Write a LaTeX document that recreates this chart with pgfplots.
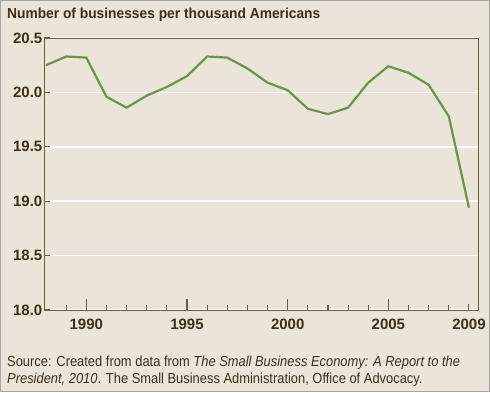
\documentclass[border=0pt]{standalone}
\usepackage{pgfplots}
\pgfplotsset{compat=1.18}
\usepackage{fontspec}
\setmainfont{Liberation Sans}
\newfontfamily\condfont[FakeStretch=0.89]{Liberation Sans}
\newfontfamily\titlefont[FakeStretch=0.95]{Liberation Sans}
\definecolor{bgc}{RGB}{234,228,217}
\definecolor{linec}{RGB}{106,150,76}
\definecolor{axisc}{RGB}{110,92,60}
\definecolor{textc}{RGB}{62,48,28}
\begin{document}
\begin{tikzpicture}
\fill[bgc] (0pt,0pt) rectangle (490pt,-392pt);
\draw[black!35, line width=1pt] (0.5pt,-0.5pt) rectangle (489.5pt,-391.5pt);
\node[anchor=base west, inner sep=0, text=textc, font=\titlefont\bfseries\fontsize{14.5}{16}\selectfont] at (7pt,-18pt) {Number of businesses per thousand Americans};
\begin{axis}[
  at={(44pt,-310pt)}, anchor=south west,
  scale only axis, width=434pt, height=272pt,
  xmin=1987.9, xmax=2009.45, ymin=18, ymax=20.5,
  axis line style={axisc, line width=0.8pt},
  tick style={axisc, line width=1.1pt},
  tick align=inside,
  xtick pos=bottom, ytick pos=left,
  xtick={2009},
  extra x ticks={1990,1995,2000,2005},
  extra x tick style={major tick length=11pt},
  minor xtick={1989,1991,1992,1993,1994,1996,1997,1998,1999,2001,2002,2003,2004,2006,2007,2008},
  major tick length=6pt, minor tick length=5pt,
  ytick={18,18.5,19,19.5,20,20.5},
  ymajorgrids, grid style={white, line width=1.6pt},
  xticklabel={\pgfmathprintnumber[1000 sep={}]{\tick}},
  yticklabel style={/pgf/number format/fixed, /pgf/number format/precision=1, /pgf/number format/fixed zerofill},
  /pgf/number format/assume math mode=true,
  ticklabel style={text=textc, font=\bfseries\fontsize{15}{15}\selectfont},
  xticklabel style={yshift=-5pt},
  yticklabel style={inner xsep=1.5pt},
  axis background/.style={fill=bgc},
]
\addplot[linec, line width=2.2pt] coordinates {
(1988,20.25) (1989,20.33) (1990,20.32) (1991,19.96) (1992,19.86)
(1993,19.97) (1994,20.05) (1995,20.15) (1996,20.33) (1997,20.32)
(1998,20.22) (1999,20.09) (2000,20.02) (2001,19.85) (2002,19.80)
(2003,19.86) (2004,20.09) (2005,20.24) (2006,20.18) (2007,20.07)
(2008,19.78) (2009,18.94)
};
\end{axis}
\node[anchor=base west, inner sep=0, text=textc, font=\condfont\fontsize{14.5}{17}\selectfont] at (7pt,-366pt) {Source: Created from data from \textit{The Small Business Economy: A Report to the}};
\node[anchor=base west, inner sep=0, text=textc, font=\condfont\fontsize{14.5}{17}\selectfont] at (7pt,-383pt) {\textit{President, 2010}. The Small Business Administration, Office of Advocacy.};
\end{tikzpicture}
\end{document}
